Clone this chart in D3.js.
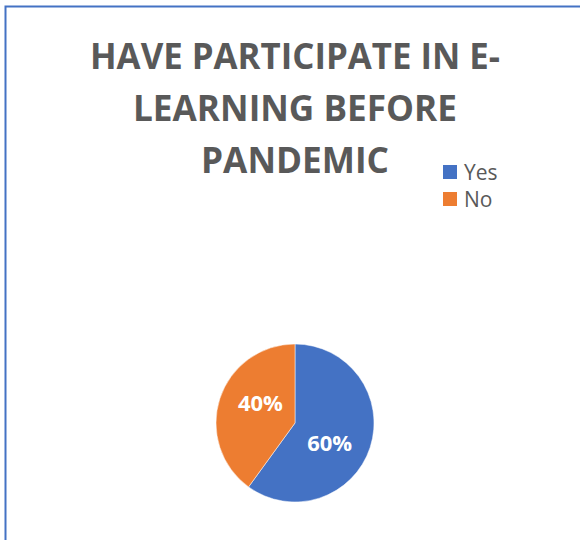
<!DOCTYPE html>
<html>
<head>
<meta charset="utf-8">
<script src="https://cdn.jsdelivr.net/npm/d3@7/dist/d3.min.js"></script>
<style>
  html, body { margin: 0; padding: 0; background: #ffffff; }
  svg { display: block; }
</style>
</head>
<body>
<svg id="chart" width="580" height="540"></svg>
<script>
const titleLines = ["HAVE PARTICIPATE IN E-", "LEARNING BEFORE", "PANDEMIC"];
const categories = ["Yes", "No"];
const values = [60, 40];
const colors = ["#4472C4", "#ED7D31"];

const svg = d3.select("#chart");

// chart area border (left and top visible)
svg.append("rect")
  .attr("x", 5.5).attr("y", 6.5)
  .attr("width", 700).attr("height", 700)
  .attr("fill", "#ffffff")
  .attr("stroke", "#4472C4")
  .attr("stroke-width", 2);

// title
const titleWidths = [410, 324, 188];
svg.append("g").selectAll("text")
  .data(titleLines)
  .join("text")
  .attr("x", 295)
  .attr("y", (d, i) => 69 + i * 52)
  .attr("text-anchor", "middle")
  .attr("font-family", "'Open Sans', sans-serif")
  .attr("font-weight", "bold")
  .attr("font-size", 36)
  .attr("fill", "#595959")
  .attr("textLength", (d, i) => titleWidths[i])
  .attr("lengthAdjust", "spacingAndGlyphs")
  .text(d => d);

// pie
const cx = 295, cy = 423, r = 79;
const pie = d3.pie().sort(null).value(d => d.value);
const data = categories.map((c, i) => ({ cat: c, value: values[i] }));
const arcs = pie(data);
const arc = d3.arc().innerRadius(0).outerRadius(r);
const labelR = 40, labelShift = 0.21;
const color = d3.scaleOrdinal().domain(categories).range(colors);
const total = d3.sum(values);

const g = svg.append("g").attr("transform", `translate(${cx},${cy})`);
g.selectAll("path")
  .data(arcs)
  .join("path")
  .attr("d", arc)
  .attr("fill", d => color(d.data.cat))
  .attr("stroke", "#ffffff")
  .attr("stroke-width", 0.5);

g.selectAll("text")
  .data(arcs)
  .join("text")
  .attr("transform", d => {
    const a = (d.startAngle + d.endAngle) / 2 + labelShift;
    return `translate(${labelR * Math.sin(a)},${-labelR * Math.cos(a)})`;
  })
  .attr("text-anchor", "middle")
  .attr("dy", "0.36em")
  .attr("font-family", "'Open Sans', sans-serif")
  .attr("font-weight", "bold")
  .attr("font-size", 22)
  .attr("fill", "#ffffff")
  .text(d => Math.round(d.data.value / total * 100) + "%");

// legend
const legend = svg.append("g").attr("transform", "translate(443,165)");
const items = legend.selectAll("g")
  .data(categories)
  .join("g")
  .attr("transform", (d, i) => `translate(0,${i * 27})`);
items.append("rect")
  .attr("width", 14).attr("height", 14)
  .attr("fill", d => color(d));
items.append("text")
  .attr("x", 21).attr("y", 15)
  .attr("font-family", "'Open Sans', sans-serif")
  .attr("font-size", 21)
  .attr("fill", "#595959")
  .text(d => d);
</script>
</body>
</html>
